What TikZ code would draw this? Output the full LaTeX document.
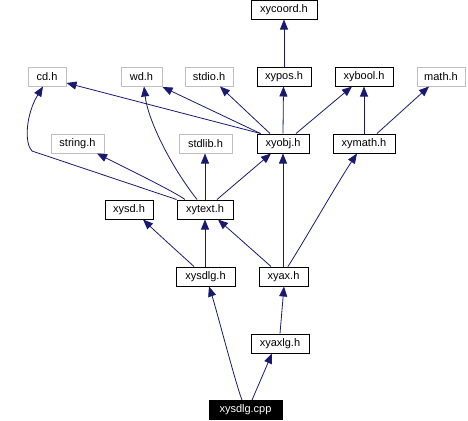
\documentclass[tikz,border=0pt]{standalone}
\usepackage{fontspec}
\setmainfont{Liberation Sans}
\usetikzlibrary{arrows.meta,calc}
\definecolor{edgeblue}{RGB}{25,25,112}
\definecolor{extgrey}{RGB}{191,191,191}
\tikzset{
  hdr/.style={draw=black,line width=0.75pt,inner sep=0pt,minimum height=14.25pt,font=\fontsize{8.25pt}{9.5pt}\selectfont},
  ext/.style={hdr,draw=extgrey},
  src/.style={hdr,fill=black,text=white},
  inc/.style={draw=edgeblue,line width=0.6pt,-{Triangle[length=7.5pt,width=6pt]},edgeblue}
}
\begin{document}
\begin{tikzpicture}[x=0.75pt,y=0.75pt,yscale=-1,xscale=1]
\useasboundingbox (0,0) rectangle (468,421);

            %Nodes: headers
            \node[hdr,minimum width=49.5pt] (coordh) at (284,9.5) {xycoord.h};
            \node[ext,minimum width=28.5pt] (cdh) at (47,76.5) {cd.h};
            \node[ext,minimum width=30.75pt] (wdh) at (141.5,76.5) {wd.h};
            \node[ext,minimum width=36pt] (stdioh) at (209,76.5) {stdio.h};
            \node[hdr,minimum width=40.5pt] (posh) at (284,76.5) {xypos.h};
            \node[hdr,minimum width=43.5pt] (boolh) at (364,76.5) {xybool.h};
            \node[ext,minimum width=36pt] (mathh) at (441,76.5) {math.h};
            \node[ext,minimum width=39.75pt] (stringh) at (77.5,143.5) {string.h};
            \node[ext,minimum width=39.75pt] (stdlibh) at (205.5,143.5) {stdlib.h};
            \node[hdr,minimum width=39pt] (objh) at (283,143.5) {xyobj.h};
            \node[hdr,minimum width=46.5pt] (xmathh) at (364,143.5) {xymath.h};
            \node[hdr,minimum width=36pt] (sdh) at (129,209.5) {xysd.h};
            \node[hdr,minimum width=42pt] (texth) at (205,209.5) {xytext.h};
            \node[hdr,minimum width=44.25pt] (sdlgh) at (205.5,276.5) {xysdlg.h};
            \node[hdr,minimum width=36.75pt] (axh) at (283.5,276.5) {xyax.h};
            \node[hdr,minimum width=43.5pt] (axlgh) at (280,343.5) {xyaxlg.h};
            %Node: source file
            \node[src,minimum width=54.75pt] (cpp) at (245.5,410) {xysdlg.cpp};

            %Edges from xysdlg.cpp
            \draw[inc] ($(cpp.north)+(-3.5,0)$) .. controls (236,385) and (216,308) .. ($(sdlgh.south)+(3.5,0)$);
            \draw[inc] ($(cpp.north)+(6.5,0)$) -- ($(axlgh.south)+(-8,0)$);
            %Edges from xyaxlg.h, xysdlg.h, xyax.h
            \draw[inc] (axlgh.north) -- ($(axh.south)+(0.5,0)$);
            \draw[inc] ($(sdlgh.north)+(-11.5,0)$) .. controls (178,252) and (156,232) .. ($(sdh.south)+(14,0)$);
            \draw[inc] ($(sdlgh.north)+(-0.5,0)$) -- (texth.south);
            \draw[inc] ($(axh.north)+(-12.5,0)$) -- ($(texth.south)+(13,0)$);
            \draw[inc] ($(axh.north)+(-0.5,0)$) -- (objh.south);
            \draw[inc] ($(axh.north)+(4.5,0)$) .. controls (306,238) and (338,182) .. ($(xmathh.south)+(-7,0)$);
            %Edges from xytext.h
            \draw[inc] (texth.north west) -- (32,151) .. controls (24,143) and (26,114) .. ($(cdh.south)+(-4,0)$);
            \draw[inc] ($(texth.north)+(-8,0)$) .. controls (170,165) and (148,120) .. ($(wdh.south)+(2.5,0)$);
            \draw[inc] ($(texth.north)+(-20,0)$) .. controls (175,192) and (120,165) .. ($(stringh.south)+(19.5,0)$);
            \draw[inc] (texth.north) -- ($(stdlibh.south)+(-0.5,0)$);
            \draw[inc] ($(texth.north)+(12,0)$) -- ($(objh.south)+(-12,0)$);
            %Edges from xyobj.h
            \draw[inc] ($(objh.north west)+(4,0)$) -- ($(cdh.east)+(0,6.5)$);
            \draw[inc] ($(objh.north west)+(4,0)$) -- ($(wdh.south east)+(0,0.5)$);
            \draw[inc] ($(objh.north)+(-13,0)$) -- ($(stdioh.south)+(11,0)$);
            \draw[inc] (objh.north) -- ($(posh.south)+(-0.5,0)$);
            \draw[inc] ($(objh.north)+(13,0)$) -- ($(boolh.south)+(-12,0)$);
            %Edges from xypos.h and xymath.h
            \draw[inc] (posh.north) -- (coordh.south);
            \draw[inc] (xmathh.north) -- (boolh.south);
            \draw[inc] ($(xmathh.north)+(13,0)$) -- ($(mathh.south)+(-12,0)$);

\end{tikzpicture}
\end{document}
